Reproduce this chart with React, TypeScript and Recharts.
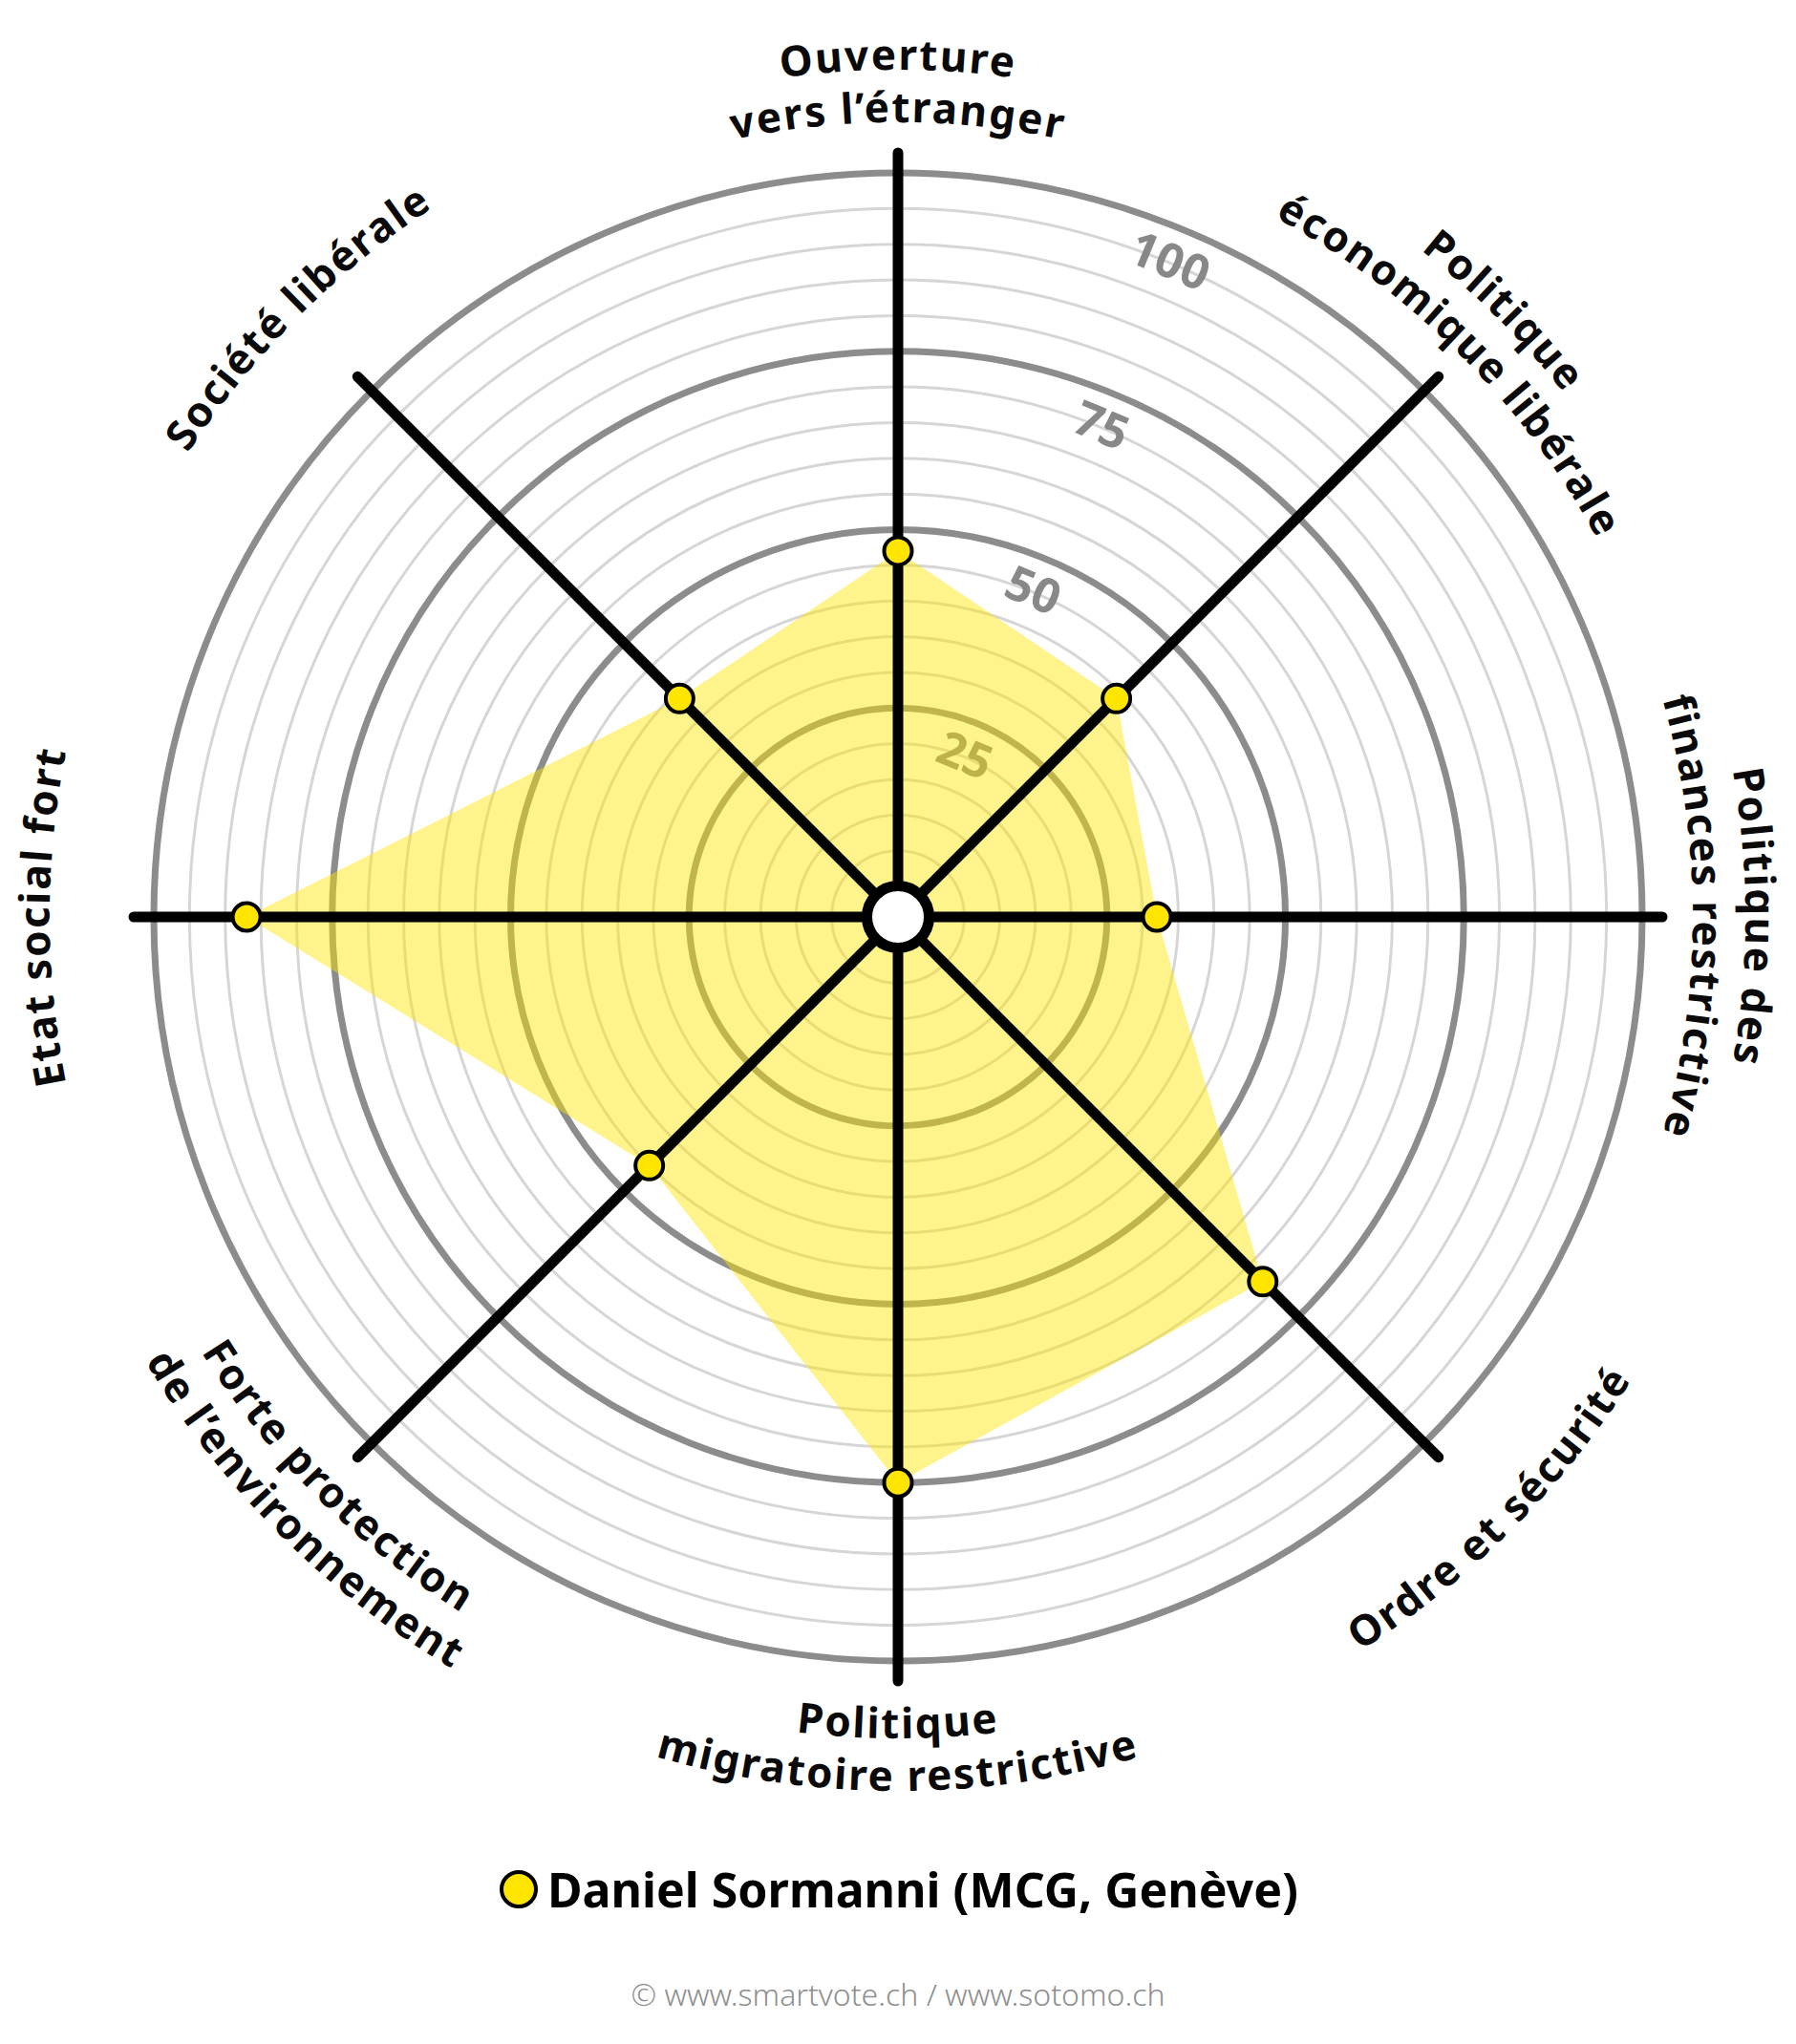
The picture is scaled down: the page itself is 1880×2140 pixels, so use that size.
import React from "react";
import {
  RadarChart,
  Radar,
  PolarGrid,
  PolarAngleAxis,
  PolarRadiusAxis,
  Legend,
} from "recharts";

// axis names, clockwise from the top ("\n" = line break)
const AXES = [
  "Ouverture\nvers l’étranger",
  "Politique\néconomique libérale",
  "Politique des\nfinances restrictive",
  "Ordre et sécurité",
  "Politique\nmigratoire restrictive",
  "Forte protection\nde l’environnement",
  "Etat social fort",
  "Société libérale",
];
const SCORES = [47, 39, 32, 68, 75, 45, 87, 39];
const CANDIDATE = "Daniel Sormanni (MCG, Genève)";
const SOURCE = "© www.smartvote.ch / www.sotomo.ch";

const SCALE = [0, 100];
const TICK_COUNT = 21; // a ring every 5 points
const MAJOR_STEP = 25; // labelled, darker rings

const data = AXES.map((axis, i) => ({ axis, score: SCORES[i] }));

const W = 1880;
const H = 2140;
const CX = 940;
const CY = 960;
const INNER = 32;
const OUTER = 779;
const FONT = '"Noto Sans", "Open Sans", sans-serif';
const YELLOW = "#FFE500";
const RING_LABEL_ANGLE = 67.5;

const rad = (deg: number) => (deg * Math.PI) / 180;
const pt = (r: number, deg: number) => ({
  x: CX + r * Math.cos(rad(deg)),
  y: CY - r * Math.sin(rad(deg)),
});

function arcPath(r: number, angle: number, ccw: boolean) {
  const span = 70;
  const p0 = pt(r, ccw ? angle - span : angle + span);
  const p1 = pt(r, ccw ? angle + span : angle - span);
  return `M ${p0.x} ${p0.y} A ${r} ${r} 0 0 ${ccw ? 0 : 1} ${p1.x} ${p1.y}`;
}

// category names set on arcs round the chart
const AxisLabel = (props: any) => {
  const { payload, index } = props;
  const angle = payload.coordinate;
  const a = ((angle % 360) + 360) % 360;
  const ccw = a > 180 && a < 360;
  const lines = String(payload.value).split("\n");
  let centers = ccw ? [894] : [902];
  if (lines.length === 2) centers = ccw ? [846, 901] : [901, 846];
  return (
    <g>
      {lines.map((line, j) => {
        const id = `axis-label-${index}-${j}`;
        const r = ccw ? centers[j] + 14 : centers[j] - 14;
        return (
          <g key={id}>
            <path id={id} d={arcPath(r, angle, ccw)} fill="none" stroke="none" />
            <text
              fontFamily={FONT}
              fontSize={44}
              fontWeight={700}
              fill="#0a0a0a"
              style={{ letterSpacing: 2 }}
            >
              <textPath href={`#${id}`} startOffset="50%" textAnchor="middle">
                {line}
              </textPath>
            </text>
          </g>
        );
      })}
    </g>
  );
};

// major rings and their numbers, placed from the radius axis ticks
const RingTick = (props: any) => {
  const { x, y, payload } = props;
  if (!payload || payload.value === 0 || payload.value % MAJOR_STEP !== 0) return null;
  const lx = x - 34 * Math.cos(rad(RING_LABEL_ANGLE));
  const ly = y + 34 * Math.sin(rad(RING_LABEL_ANGLE));
  return (
    <g>
      <circle cx={CX} cy={CY} r={payload.coordinate} fill="none" stroke="#8c8c8c" strokeWidth={7} />
      <text
        x={lx}
        y={ly}
        transform={`rotate(${90 - RING_LABEL_ANGLE}, ${lx}, ${ly})`}
        textAnchor="middle"
        dominantBaseline="central"
        fontFamily={FONT}
        fontSize={50}
        fontWeight={700}
        fill="#888888"
      >
        {payload.value}
      </text>
    </g>
  );
};

const LegendContent = (props: any) => {
  const items = (props.payload || []).filter((p: any) => p.type !== "none");
  const item = items[0];
  return (
    <div
      style={{
        display: "flex",
        justifyContent: "center",
        alignItems: "center",
        gap: 8,
        height: 60,
      }}
    >
      <svg width={44} height={44}>
        <circle cx={22} cy={22} r={18} fill={YELLOW} stroke="#000" strokeWidth={4} />
      </svg>
      <span style={{ fontFamily: FONT, fontSize: 50, fontWeight: 700, color: "#000" }}>
        {item ? item.value : CANDIDATE}
      </span>
    </div>
  );
};

export default function App() {
  return (
    <div style={{ position: "relative", width: W, height: H, background: "#fff" }}>
      <style>{`body{margin:0}`}</style>
      <RadarChart
        width={W}
        height={H}
        data={data}
        cx={CX}
        cy={CY}
        innerRadius={INNER}
        outerRadius={OUTER}
        margin={{ top: 0, right: 0, bottom: 0, left: 0 }}
      >
        <PolarGrid
          gridType="circle"
          radialLines={false}
          stroke="#d6d6d6"
          strokeWidth={3}
        />
        <PolarRadiusAxis
          type="number"
          domain={SCALE}
          tickCount={TICK_COUNT}
          angle={RING_LABEL_ANGLE}
          axisLine={false}
          tickLine={false}
          tick={RingTick}
          zIndex={-50}
        />
        <Radar
          dataKey="score"
          fill={YELLOW}
          fillOpacity={0.45}
          stroke="none"
          dot={false}
          activeDot={false}
          legendType="none"
          isAnimationActive={false}
        />
        <PolarGrid
          polarRadius={[]}
          radialLines
          stroke="#000"
          strokeWidth={11}
          zIndex={150}
        />
        <PolarAngleAxis
          dataKey="axis"
          axisLine={false}
          stroke="#000"
          tickSize={21}
          tickLine={{ stroke: "#000", strokeWidth: 11, strokeLinecap: "round" }}
          tick={AxisLabel}
        />
        <Radar
          dataKey="score"
          name={CANDIDATE}
          fill="none"
          stroke="none"
          dot={{
            r: 14.5,
            fill: YELLOW,
            fillOpacity: 1,
            stroke: "#000",
            strokeWidth: 4,
            strokeOpacity: 1,
          }}
          activeDot={false}
          isAnimationActive={false}
          zIndex={600}
        />
        <Legend
          content={LegendContent}
          wrapperStyle={{ top: 1948, bottom: "auto", left: 0, width: W }}
        />
      </RadarChart>
      <svg
        width={W}
        height={H}
        style={{ position: "absolute", left: 0, top: 0, pointerEvents: "none" }}
      >
        <circle cx={CX} cy={CY} r={32.5} fill="#fff" stroke="#000" strokeWidth={11} />
      </svg>
      <div
        style={{
          position: "absolute",
          top: 2066,
          left: 0,
          width: W,
          textAlign: "center",
          fontFamily: FONT,
          fontSize: 32,
          fontWeight: 300,
          color: "#8f8f8f",
        }}
      >
        {SOURCE}
      </div>
    </div>
  );
}
